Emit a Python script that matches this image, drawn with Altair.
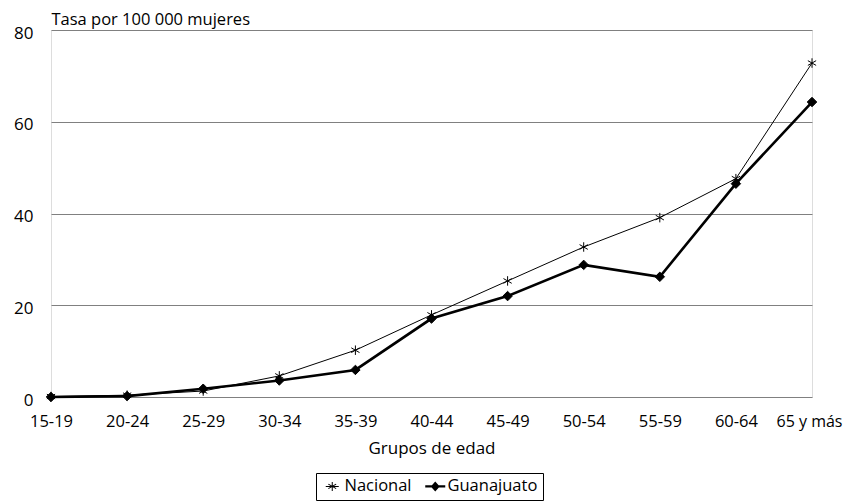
import altair as alt
import pandas as pd

grupos = ["15-19", "20-24", "25-29", "30-34", "35-39", "40-44",
          "45-49", "50-54", "55-59", "60-64", "65 y más"]
nacional = [0.1, 0.4, 1.3, 4.6, 10.2, 17.9, 25.3, 32.7, 39.1, 47.6, 72.8]
guanajuato = [0.0, 0.2, 1.8, 3.6, 5.9, 17.1, 22.0, 28.8, 26.2, 46.5, 64.3]
series = ["Nacional", "Guanajuato"]
y_ticks = [0, 20, 40, 60, 80]

rows = []
for s, vals in zip(series, [nacional, guanajuato]):
    for g, v in zip(grupos, vals):
        rows.append({"grupo": g, "serie": s, "serie_leg": s, "tasa": v})
df = pd.DataFrame(rows)

FONT = "Open Sans"
STAR = "M0,-1L0,1M-0.87,-0.5L0.87,0.5M-0.87,0.5L0.87,-0.5"
# legend symbols drawn as filled shapes (line + marker)
STAR_LEG = ("M-1.3,-0.1L1.3,-0.1L1.3,0.1L-1.3,0.1Z"
            "M-0.1,-0.9L0.1,-0.9L0.1,0.9L-0.1,0.9Z"
            "M0.73,0.537L-0.83,-0.363L-0.73,-0.537L0.83,0.363Z"
            "M0.83,-0.363L-0.73,0.537L-0.83,0.363L0.73,-0.537Z")
DIAM_LEG = ("M-2,-0.22L2,-0.22L2,0.22L-2,0.22Z"
            "M0,-1L0.9,0L0,1L-0.9,0Z")

last_test = f"datum.value === '{grupos[-1]}'"

x = alt.X("grupo:N", sort=grupos,
          scale=alt.Scale(type="point", padding=0),
          axis=alt.Axis(title="Grupos de edad", labelAngle=0, ticks=False,
                        domain=False, grid=False, labelPadding=16,
                        titlePadding=11,
                        labelFontSize={"condition": {"test": last_test, "value": 16},
                                       "value": 16.5},
                        labelOffset={"condition": {"test": last_test, "value": -3},
                                     "value": 0},
                        titleFontSize=17,
                        labelFont=FONT, titleFont=FONT, titleFontWeight="normal",
                        labelColor="black", titleColor="black"))
y = alt.Y("tasa:Q",
          scale=alt.Scale(domain=[0, 80], nice=False, zero=True),
          axis=alt.Axis(values=y_ticks, title="Tasa por 100 000 mujeres",
                        titleAngle=0, titleAlign="left", titleBaseline="alphabetic",
                        titleX=0, titleY=-6, grid=True, gridColor="#808080",
                        gridWidth=1, ticks=False, domain=False, labelPadding=18,
                        labelOffset=3, labelFontSize=17, titleFontSize=16.5,
                        labelFont=FONT, titleFont=FONT, titleFontWeight="normal",
                        labelColor="black", titleColor="black"))

lines = alt.Chart(df).mark_line(color="black").encode(
    x=x, y=y,
    detail="serie:N",
    strokeWidth=alt.StrokeWidth("serie:N", scale=alt.Scale(domain=series, range=[1, 2.6]),
                                legend=None),
)

points = alt.Chart(df).mark_point(filled=True, fill="black", stroke="black",
                                  strokeWidth=1, opacity=1, size=90).encode(
    x=x, y=y,
    shape=alt.Shape("serie:N", scale=alt.Scale(domain=series, range=[STAR, "diamond"]),
                    legend=None),
)

legend_layer = alt.Chart(df).transform_filter("false").mark_point(
    filled=True, fill="black", stroke="black", strokeWidth=1, opacity=1).encode(
    x=x, y=y,
    shape=alt.Shape("serie_leg:N",
                    scale=alt.Scale(domain=series, range=[STAR_LEG, DIAM_LEG]),
                    legend=alt.Legend(title=None, orient="none", legendX=265,
                                      legendY=443, direction="horizontal",
                                      strokeColor="black", fillColor="white",
                                      padding=5, symbolSize=100,
                                      symbolFillColor="black",
                                      symbolStrokeWidth=0, symbolOffset=3,
                                      labelOffset=4, columnPadding=12,
                                      labelFontSize=16.5, labelFont=FONT,
                                      labelColor="black")),
)

chart = alt.layer(lines, points, legend_layer).resolve_scale(
    shape="independent"
).properties(
    width=761, height=367,
    autosize=alt.AutoSizeParams(type="none"),
    padding={"left": 43, "top": 22, "right": 31, "bottom": 104},
).configure_view(
    stroke="black", strokeWidth=1
).configure(font=FONT)

chart.save("out.html", embed_options={"renderer": "svg", "actions": False})
